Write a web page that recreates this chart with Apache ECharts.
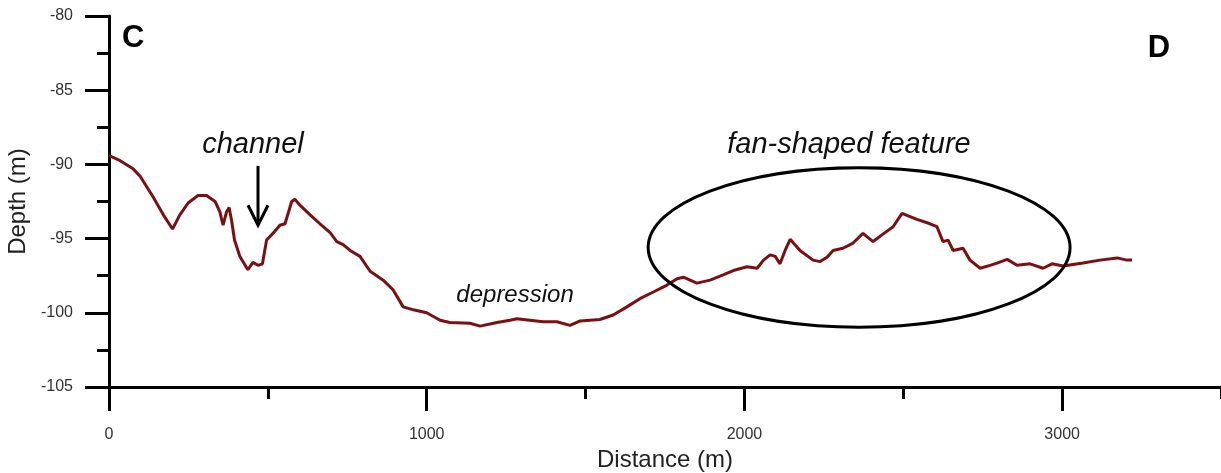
<!DOCTYPE html>
<html>
<head>
<meta charset="utf-8">
<style>
  html, body { margin: 0; padding: 0; background: #fff; }
  #chart { width: 1221px; height: 473px; }
</style>
<script src="https://cdn.jsdelivr.net/npm/echarts@6/dist/echarts.min.js"></script>
</head>
<body>
<div id="chart"></div>
<script>
// Bathymetric profile C–D: distance along track (m) and seabed depth (m)
const distance = [
  0, 35, 76, 98, 139, 171, 200, 223, 249, 280, 307, 334, 349, 359, 370, 378, 386, 395,
  412, 437, 453, 469, 483, 496, 516, 538, 554, 575, 585, 601, 633, 664, 696, 717, 737,
  759, 790, 822, 863, 894, 926, 958, 1000, 1042, 1073, 1136, 1168, 1221, 1262, 1284,
  1325, 1366, 1410, 1451, 1483, 1545, 1587, 1630, 1671, 1713, 1755, 1788, 1808, 1850,
  1892, 1933, 1965, 2008, 2040, 2060, 2081, 2097, 2112, 2128, 2144, 2175, 2216, 2238,
  2260, 2279, 2310, 2342, 2373, 2405, 2436, 2468, 2496, 2543, 2584, 2606, 2625, 2641,
  2657, 2688, 2710, 2742, 2773, 2795, 2827, 2858, 2899, 2940, 2968, 3003, 3066, 3119,
  3173, 3204, 3220
];
const depth = [
  -89.4, -89.75, -90.3, -90.8, -92.2, -93.4, -94.35, -93.4, -92.6, -92.1, -92.1, -92.5,
  -93.2, -94.1, -93.2, -92.9, -93.8, -95.1, -96.2, -97.1, -96.6, -96.8, -96.7, -95.1,
  -94.65, -94.1, -94.0, -92.5, -92.35, -92.75, -93.4, -94.0, -94.6, -95.2, -95.4, -95.8,
  -96.2, -97.2, -97.8, -98.45, -99.6, -99.8, -100.0, -100.5, -100.65, -100.7, -100.9,
  -100.65, -100.5, -100.4, -100.5, -100.6, -100.6, -100.85, -100.55, -100.45, -100.15,
  -99.6, -99.05, -98.6, -98.15, -97.7, -97.6, -98.0, -97.8, -97.45, -97.15, -96.9, -97.0,
  -96.45, -96.1, -96.2, -96.7, -95.8, -95.05, -95.8, -96.45, -96.55, -96.25, -95.8,
  -95.65, -95.3, -94.65, -95.2, -94.7, -94.2, -93.3, -93.7, -94.0, -94.2, -95.2, -95.1,
  -95.8, -95.65, -96.45, -97.0, -96.8, -96.65, -96.4, -96.8, -96.7, -97.0, -96.7, -96.85,
  -96.65, -96.45, -96.3, -96.45, -96.45
];

// Axis ticks
const xMajorTicks = [0, 1000, 2000, 3000];
const xMinorTicks = [500, 1500, 2500, 3500];

// Annotations, anchored in data units: [distance, depth, text]
const notes = [
  [453, -88.7, 'channel'],
  [1278, -98.8, 'depression'],
  [2329, -88.7, 'fan-shaped feature']
];
const endLabels = [
  [76, -81.5, 'C'],
  [3305, -82.2, 'D']
];
// Arrow pointing at the channel: [distance, topDepth, tipDepth]
const channelArrow = [[469, -90.1, -94.1]];
// Outline of the fan-shaped feature: [centreDistance, centreDepth, halfWidth, halfHeight]
const fanOutline = [[2361, -95.6, 664, 5.38]];

const profile = distance.map((d, i) => [d, depth[i]]);
const FONT = '"Liberation Sans", Arial, sans-serif';

const chart = echarts.init(document.getElementById('chart'));
chart.setOption({
  animation: false,
  backgroundColor: '#fff',
  grid: { left: 109, right: 0, top: 16, bottom: 86, containLabel: false, outerBoundsMode: 'none' },
  xAxis: [
    {
      type: 'value', min: 0, max: 3500, position: 'bottom',
      name: 'Distance (m)', nameLocation: 'middle', nameGap: 60,
      nameTextStyle: { fontFamily: FONT, fontSize: 24, color: '#222' },
      axisLine: { show: true, onZero: false, lineStyle: { color: '#000', width: 3 } },
      axisTick: { show: true, customValues: xMajorTicks, length: 24, lineStyle: { color: '#000', width: 3 } },
      axisLabel: {
        customValues: xMajorTicks, margin: 40, fontFamily: FONT, fontSize: 16, color: '#333',
        formatter: function (v) { return String(v); }
      },
      splitLine: { show: false }
    },
    {
      type: 'value', min: 0, max: 3500, position: 'bottom',
      axisLine: { show: false, onZero: false },
      axisTick: { show: true, customValues: xMinorTicks, length: 12, lineStyle: { color: '#000', width: 3 } },
      axisLabel: { show: false },
      splitLine: { show: false }
    }
  ],
  yAxis: {
    type: 'value', min: -105, max: -80, interval: 5,
    name: 'Depth (m)', nameLocation: 'middle', nameGap: 73,
    nameTextStyle: { fontFamily: FONT, fontSize: 24, color: '#222' },
    axisLine: { show: true, onZero: false, lineStyle: { color: '#000', width: 3 } },
    axisTick: { show: true, length: 24, lineStyle: { color: '#000', width: 3 } },
    minorTick: { show: true, splitNumber: 2, length: 12, lineStyle: { color: '#000', width: 3 } },
    axisLabel: { margin: 36, fontFamily: FONT, fontSize: 16, color: '#333' },
    splitLine: { show: false },
    minorSplitLine: { show: false }
  },
  series: [
    {
      type: 'line',
      data: profile,
      showSymbol: false,
      smooth: false,
      lineStyle: { color: '#7b1013', width: 3 },
      z: 3
    },
    {
      type: 'custom',
      data: fanOutline,
      silent: true,
      z: 4,
      renderItem: function (params, api) {
        const c = api.coord([api.value(0), api.value(1)]);
        const s = api.size([api.value(2), api.value(3)]);
        return {
          type: 'ellipse',
          shape: { cx: c[0], cy: c[1], rx: s[0], ry: s[1] },
          style: { fill: null, stroke: '#000', lineWidth: 3 }
        };
      }
    },
    {
      type: 'custom',
      data: channelArrow,
      silent: true,
      z: 4,
      renderItem: function (params, api) {
        const top = api.coord([api.value(0), api.value(1)]);
        const tip = api.coord([api.value(0), api.value(2)]);
        const st = { stroke: '#000', lineWidth: 3, fill: null };
        return {
          type: 'group',
          children: [
            { type: 'line', shape: { x1: top[0], y1: top[1], x2: tip[0], y2: tip[1] }, style: st },
            { type: 'polyline', shape: { points: [[tip[0] - 10, tip[1] - 20], [tip[0], tip[1]], [tip[0] + 10, tip[1] - 20]] }, style: st }
          ]
        };
      }
    },
    {
      type: 'custom',
      data: notes,
      silent: true,
      z: 5,
      renderItem: function (params, api) {
        const p = api.coord([api.value(0), api.value(1)]);
        const txt = notes[params.dataIndex][2];
        const size = txt === 'depression' ? 24 : 29;
        return {
          type: 'text',
          x: p[0], y: p[1],
          style: {
            text: txt, fontFamily: FONT, fontStyle: 'italic', fontSize: size,
            fill: '#111', align: 'center', verticalAlign: 'middle'
          }
        };
      }
    },
    {
      type: 'custom',
      data: endLabels,
      silent: true,
      z: 5,
      renderItem: function (params, api) {
        const p = api.coord([api.value(0), api.value(1)]);
        return {
          type: 'text',
          x: p[0], y: p[1],
          style: {
            text: endLabels[params.dataIndex][2], fontFamily: FONT, fontWeight: 'bold', fontSize: 31,
            fill: '#000', align: 'center', verticalAlign: 'middle'
          }
        };
      }
    }
  ]
});
</script>
</body>
</html>
